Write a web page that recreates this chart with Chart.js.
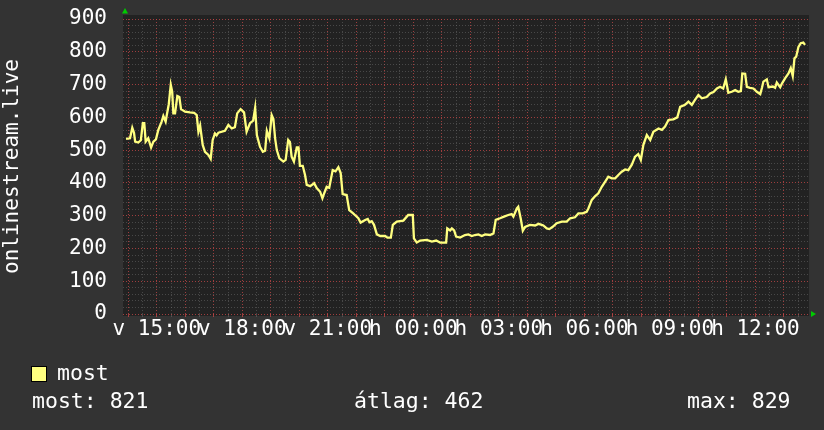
<!DOCTYPE html>
<html><head><meta charset="utf-8">
<style>html,body{margin:0;padding:0;background:#333333;overflow:hidden}#wrap{position:relative;width:824px;height:430px}</style>
<script src="https://cdn.jsdelivr.net/npm/chart.js@4/dist/chart.umd.min.js"></script>
</head><body><div id="wrap"><canvas id="c" width="824" height="430"></canvas></div>
<script>
// hours since 14:00 (day 1)
const hours = [-0.08,0.06,0.14,0.20,0.24,0.35,0.44,0.51,0.56,0.61,0.70,0.80,0.88,0.97,1.05,1.17,1.23,1.31,1.35,1.42,1.49,1.54,1.58,1.64,1.72,1.79,1.85,1.99,2.16,2.31,2.40,2.46,2.52,2.61,2.69,2.81,2.89,2.96,3.04,3.10,3.16,3.39,3.51,3.63,3.74,3.82,3.94,4.06,4.15,4.27,4.38,4.45,4.51,4.62,4.72,4.80,4.86,4.95,5.03,5.09,5.15,5.21,5.30,5.44,5.52,5.61,5.67,5.73,5.81,5.91,5.97,6.02,6.12,6.20,6.26,6.38,6.52,6.61,6.73,6.81,6.88,6.96,7.05,7.17,7.27,7.37,7.45,7.52,7.66,7.75,7.89,7.95,8.07,8.15,8.31,8.40,8.46,8.54,8.62,8.72,8.84,9.01,9.09,9.21,9.28,9.42,9.65,9.82,9.98,10.02,10.12,10.24,10.47,10.65,10.80,10.94,11.15,11.19,11.29,11.35,11.43,11.50,11.64,11.81,11.93,12.05,12.16,12.28,12.40,12.52,12.69,12.81,12.89,13.04,13.18,13.33,13.45,13.51,13.63,13.68,13.77,13.84,13.92,14.09,14.27,14.39,14.56,14.68,14.77,14.89,15.03,15.21,15.38,15.50,15.67,15.79,15.94,16.08,16.14,16.26,16.38,16.49,16.61,16.73,16.84,16.96,17.08,17.19,17.31,17.43,17.54,17.66,17.78,17.89,17.98,18.07,18.19,18.31,18.42,18.60,18.72,18.83,18.95,19.12,19.26,19.36,19.53,19.65,19.77,19.88,20.00,20.12,20.29,20.41,20.53,20.65,20.76,20.87,20.96,21.05,21.17,21.29,21.40,21.49,21.54,21.64,21.70,21.81,21.93,22.05,22.17,22.23,22.28,22.40,22.46,22.61,22.69,22.75,22.87,22.93,23.04,23.16,23.24,23.31,23.37,23.43,23.51,23.59,23.68,23.74];
const values = [534,536,568,553,526,523,530,582,582,526,536,508,526,533,561,587,604,587,607,640,699,678,612,612,665,662,625,617,615,614,607,556,575,516,495,485,473,531,551,545,553,559,577,566,570,612,625,615,556,582,590,629,546,510,495,498,559,536,607,595,536,500,475,465,470,531,525,480,465,508,508,452,452,424,394,390,399,384,373,353,370,388,385,439,435,448,430,366,363,317,307,302,292,279,287,290,280,283,272,243,238,238,233,233,272,282,285,302,302,231,218,224,226,221,224,218,218,261,255,261,255,236,233,241,243,238,241,243,238,243,241,246,287,292,297,302,305,297,322,327,290,254,266,272,270,275,270,261,259,266,277,282,282,292,295,307,307,312,322,348,360,368,388,404,419,414,414,424,434,441,439,455,480,488,470,516,546,531,556,566,562,572,592,594,600,632,638,648,638,653,668,658,662,673,677,688,693,688,716,675,678,683,678,680,734,733,693,690,688,678,671,690,709,716,692,694,690,706,692,703,719,734,750,726,780,785,815,826,828,821];
const xTickHours = [1,4,7,10,13,16,19,22];
const xTickLabels = ['v 15:00','v 18:00','v 21:00','h 00:00','h 03:00','h 06:00','h 09:00','h 12:00'];
const yTickValues = [0,100,200,300,400,500,600,700,800,900];
const yAxisTitle = 'onlinestream.live';
const seriesName = 'most';
const statTexts = ['most: 821','átlag: 462','max: 829'];

const FONT = "'DejaVu Sans Mono', monospace";
const FS = 21;
const MAJOR = 'rgba(200,72,72,0.75)';
const MINOR = 'rgba(110,110,110,0.5)';

const isMajorX = c => c.tick && Number.isInteger(c.tick.value);
const isMajorY = c => c.tick && c.tick.value % 100 === 0;

const decor = {
  id:'decor',
  beforeDraw(chart){
    const {ctx, chartArea:a} = chart;
    ctx.save();
    ctx.fillStyle = '#333333';
    ctx.fillRect(0,0,chart.width,chart.height);
    ctx.fillStyle = '#222222';
    ctx.fillRect(a.left, a.top-4, a.right-a.left, a.bottom-a.top+6);
    ctx.restore();
  },
  afterDraw(chart){
    const {ctx, chartArea:a} = chart;
    ctx.save();
    ctx.fillStyle = '#00cc00';
    ctx.beginPath(); ctx.moveTo(a.left-1,13.5); ctx.lineTo(a.left+5,13.5); ctx.lineTo(a.left+2,8); ctx.closePath(); ctx.fill();
    ctx.beginPath(); ctx.moveTo(a.right+2,a.bottom-3); ctx.lineTo(a.right+2,a.bottom+3); ctx.lineTo(a.right+7,a.bottom); ctx.closePath(); ctx.fill();
    ctx.fillStyle = chart.data.datasets[0].borderColor;
    ctx.fillRect(31.5,366.5,15,15);
    ctx.strokeStyle = '#000'; ctx.lineWidth = 1;
    ctx.strokeRect(31.5,366.5,15,15);
    ctx.fillStyle = '#ffffff';
    ctx.font = '21.5px ' + FONT;
    ctx.textBaseline = 'middle';
    ctx.textAlign = 'left';
    ctx.fillText(seriesName, 57, 374);
    const xs = [32, 354, 687];
    statTexts.forEach((t,i)=>ctx.fillText(t, xs[i], 402));
    ctx.restore();
  }
};

new Chart(document.getElementById('c'), {
  type:'line',
  data:{datasets:[{label:seriesName, data:hours.map((h,i)=>({x:h,y:values[i]})), borderColor:'#ffff80', borderWidth:2.3, pointRadius:0, tension:0, fill:false}]},
  options:{
    responsive:false, animation:false, devicePixelRatio:1,
    layout:{padding:{left:0,top:19,right:15,bottom:0}},
    plugins:{legend:{display:false}, tooltip:{enabled:false}},
    scales:{
      x:{type:'linear', min:-0.186, max:23.88,
        afterBuildTicks(s){ const t=[]; for(let h=0; h<=23.5; h+=0.5) t.push({value:h}); s.ticks=t; },
        afterFit(s){ s.height = 116; s.paddingLeft = 0; s.paddingRight = 0; },
        ticks:{autoSkip:false, maxRotation:0, minRotation:0, color:'#ffffff', font:{family:FONT,size:FS}, padding:0,
          callback(v){ const i = xTickHours.indexOf(v); return i>=0 ? xTickLabels[i] : ''; }},
        grid:{color:c=>isMajorX(c) ? MAJOR : MINOR, lineWidth:1, drawTicks:true, tickLength:3},
        border:{display:false, dash:[1,2]}
      },
      y:{type:'linear', min:0, max:900,
        afterBuildTicks(s){ const t=[]; for(let v=0; v<=900; v+=20) t.push({value:v}); s.ticks=t; },
        afterFit(s){ s.width = 123; s.paddingTop = 0; s.paddingBottom = 0; },
        ticks:{autoSkip:false, color:'#ffffff', font:{family:FONT,size:FS}, padding:16,
          callback(v){ return yTickValues.includes(v) ? String(v) : ''; }},
        grid:{color:c=>isMajorY(c) ? MAJOR : MINOR, lineWidth:1, drawTicks:false},
        border:{display:false, dash:[1,2]},
        title:{display:true, text:yAxisTitle, color:'#ffffff', font:{family:FONT,size:FS}, padding:{top:0,bottom:0}}
      }
    }
  },
  plugins:[decor]
});
</script></body></html>
